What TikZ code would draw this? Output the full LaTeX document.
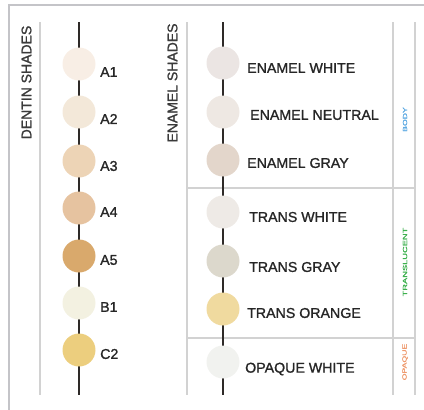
\documentclass[tikz,border=0pt]{standalone}
\usepackage{fontspec}
\setmainfont{Liberation Sans}
\newfontfamily\medfont[FakeBold=1.3]{Liberation Sans}
\newfontfamily\tagfont[FakeBold=1.5]{Liberation Sans}
\definecolor{frame}{HTML}{C4C4C8}
\definecolor{rule}{HTML}{D2D2D2}
\definecolor{stem}{HTML}{2E2A28}
\definecolor{ink}{HTML}{262626}
\definecolor{head}{HTML}{3A3A3A}
\definecolor{cA1}{HTML}{F8EEE5}
\definecolor{cA2}{HTML}{F3E8D9}
\definecolor{cA3}{HTML}{EDD4B6}
\definecolor{cA4}{HTML}{E6C3A0}
\definecolor{cA5}{HTML}{D9A96C}
\definecolor{cB1}{HTML}{F3F1E1}
\definecolor{cC2}{HTML}{ECCE7E}
\definecolor{cEW}{HTML}{EBE5E3}
\definecolor{cEN}{HTML}{EEE8E3}
\definecolor{cEG}{HTML}{E3D6CB}
\definecolor{cTW}{HTML}{EEEAE6}
\definecolor{cTG}{HTML}{DCD8CC}
\definecolor{cTO}{HTML}{F0DA9F}
\definecolor{cOW}{HTML}{F1F2EF}
\definecolor{cBody}{HTML}{5AA8E2}
\definecolor{cTrans}{HTML}{3DB04E}
\definecolor{cOpq}{HTML}{EE9A6E}
\begin{document}
\begin{tikzpicture}[x=1pt,y=-1pt,
  shade/.style={circle,fill=#1,draw=none,minimum size=33pt,inner sep=0pt},
  lbl/.style={anchor=west,inner sep=0pt,text=ink,font=\medfont\fontsize{14.2}{14.2}\selectfont},
  hdr/.style={rotate=90,inner sep=0pt,text=head,font=\medfont\fontsize{14}{14}\selectfont},
  tag/.style={rotate=90,inner sep=0pt,font=\tagfont\fontsize{6}{6}\selectfont},
  grayrule/.style={draw=rule,line width=1.6pt},
  blackstem/.style={draw=stem,line width=1.7pt}]
\useasboundingbox (0,0) rectangle (424,410);
% outer frame (cropped)
\draw[frame,line width=1.8pt] (424,5) -- (9,5) -- (9,410);
% vertical rules
\coordinate (g1t) at (40,22); \coordinate (g1b) at (40,395);
\coordinate (g2t) at (187,22); \coordinate (g2b) at (187,395);
\coordinate (g3t) at (393,22); \coordinate (g3b) at (393,395);
\coordinate (g4t) at (415,22); \coordinate (g4b) at (415,395);
\draw[grayrule] (g1t) -- (g1b);
\draw[grayrule] (g2t) -- (g2b);
\draw[grayrule] (g3t) -- (g3b);
\draw[grayrule] (g4t) -- (g4b);
% horizontal dividers
\coordinate (h1a) at (187,188); \coordinate (h1b) at (415,188);
\coordinate (h2a) at (187,338); \coordinate (h2b) at (415,338);
\draw[grayrule] (h1a) -- (h1b);
\draw[grayrule] (h2a) -- (h2b);
% stems
\coordinate (s1t) at (79,22); \coordinate (s1b) at (79,395);
\coordinate (s2t) at (223,22); \coordinate (s2b) at (223,395);
\draw[blackstem] (s1t) -- (s1b);
\draw[blackstem] (s2t) -- (s2b);
% headers
\node[hdr] (hd) at (26.5,82.5) {DENTIN SHADES};
\node[hdr] (he) at (172.5,83) {ENAMEL SHADES};
% dentin shades
\node[shade=cA1] (a1) at (79,64) {};
\node[shade=cA2] (a2) at (79,112) {};
\node[shade=cA3] (a3) at (79,161) {};
\node[shade=cA4] (a4) at (79,208) {};
\node[shade=cA5] (a5) at (79,256) {};
\node[shade=cB1] (b1) at (79,303) {};
\node[shade=cC2] (c2) at (79,350) {};
\node[lbl] (la1) at (100,72) {A1};
\node[lbl] (la2) at (100,119) {A2};
\node[lbl] (la3) at (100,166) {A3};
\node[lbl] (la4) at (100,212) {A4};
\node[lbl] (la5) at (100,260) {A5};
\node[lbl] (lb1) at (100,307) {B1};
\node[lbl] (lc2) at (100,354) {C2};
% enamel shades
\node[shade=cEW] (ew) at (223,63) {};
\node[shade=cEN] (en) at (223,112) {};
\node[shade=cEG] (eg) at (223,160) {};
\node[shade=cTW] (tw) at (223,212) {};
\node[shade=cTG] (tg) at (223,261) {};
\node[shade=cTO] (to) at (223,309) {};
\node[shade=cOW] (ow) at (223,362) {};
\node[lbl] (lew) at (247,68) {ENAMEL WHITE};
\node[lbl] (len) at (250,115) {ENAMEL NEUTRAL};
\node[lbl] (leg) at (247,163) {ENAMEL GRAY};
\node[lbl] (ltw) at (249,217) {TRANS WHITE};
\node[lbl] (ltg) at (249,267) {TRANS GRAY};
\node[lbl] (lto) at (247,313) {TRANS ORANGE};
\node[lbl] (low) at (245,369) {OPAQUE WHITE};
% category tags
\node[tag,text=cBody] (tb) at (405,119.5) {\scalebox{1.45}[1]{BODY}};
\node[tag,text=cTrans] (tt) at (405,262) {\scalebox{1.55}[1]{TRANSLUCENT}};
\node[tag,text=cOpq] (to2) at (405,362) {\scalebox{1.45}[1]{OPAQUE}};
\end{tikzpicture}
\end{document}
